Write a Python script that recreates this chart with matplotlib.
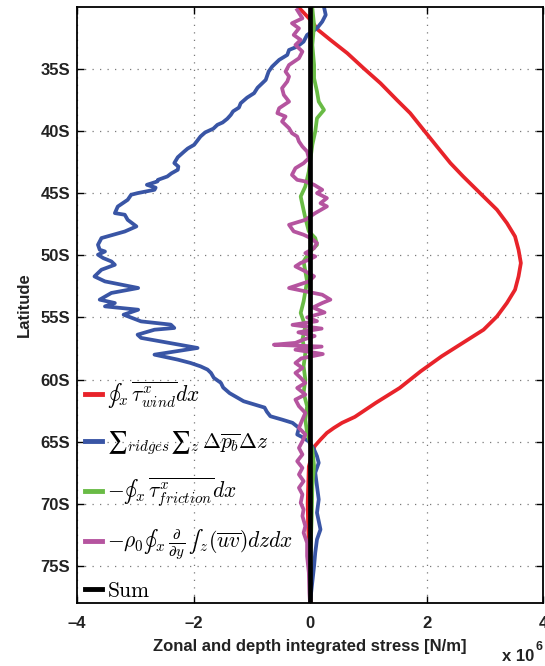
import matplotlib
matplotlib.use("Agg")
import matplotlib.pyplot as plt
from matplotlib.ticker import FixedLocator, FuncFormatter

plt.rcParams["mathtext.fontset"] = "cm"
plt.rcParams["font.family"] = ["Liberation Sans", "DejaVu Sans"]

# Zonal & depth integrated stress terms (units of 1e6 N/m) versus latitude (deg, negative = south)
wind_lat = [-30.0, -30.6, -31.05, -31.85, -32.65, -33.72, -34.93, -36.14, -37.48, -38.55,
            -39.90, -41.24, -42.57, -43.65, -44.99, -46.33, -47.40, -48.48, -49.55, -50.62,
            -51.70, -52.77, -53.84, -54.92, -55.99, -57.06, -58.13, -59.34, -60.68, -61.88,
            -63.01, -63.49, -63.90, -64.30, -64.84, -65.37, -66.0, -67.0, -68.5, -70.0,
            -72.0, -74.0, -76.0, -78.0]
wind_val = [-0.20, -0.08, 0.01, 0.14, 0.35, 0.64, 0.92, 1.21, 1.49, 1.72,
            1.95, 2.18, 2.41, 2.63, 2.92, 3.21, 3.38, 3.52, 3.58, 3.62,
            3.58, 3.52, 3.38, 3.21, 2.98, 2.62, 2.26, 1.90, 1.54, 1.13,
            0.77, 0.55, 0.41, 0.29, 0.18, 0.08, 0.04, -0.02, -0.03, -0.04,
            -0.03, -0.01, 0.00, 0.01]

ridge_lat = [-30.0, -30.64, -31.18, -31.71, -31.98, -32.25, -32.79, -33.19, -33.46, -33.86,
             -34.26, -34.80, -35.2, -35.6, -35.87, -36.14, -36.5, -36.94, -37.3, -37.75,
             -38.1, -38.4, -38.69, -39.0, -39.3, -39.49, -39.8, -40.1, -40.43, -40.8,
             -41.1, -41.4, -41.64, -42.1, -42.57, -42.85, -43.11, -43.4, -43.65, -43.92,
             -44.05, -44.32, -44.55, -44.72, -44.99, -45.12, -45.53, -46.07, -46.60, -46.73,
             -47.14, -47.67, -48.08, -48.61, -49.15, -49.55, -49.69, -49.95, -50.22, -50.49,
             -50.76, -51.16, -51.70, -52.10, -52.63, -53.03, -53.57, -53.84, -54.11, -54.38,
             -54.78, -55.32, -55.58, -55.85, -55.99, -56.39, -56.65, -57.46, -58.0, -58.40,
             -58.67, -58.94, -59.20, -59.47, -59.87, -60.27, -60.65, -61.1, -61.75, -62.26,
             -62.6, -62.96, -63.23, -63.49, -63.90, -64.43, -64.70, -65.0, -65.64, -66.18,
             -66.71, -67.51, -68.59, -69.66, -70.73, -72.08, -72.88, -73.95, -75.03, -76.3,
             -78.0]
ridge_val = [0.24, 0.27, 0.21, 0.12, 0.04, -0.05, -0.11, -0.22, -0.36, -0.39,
             -0.53, -0.65, -0.71, -0.74, -0.76, -0.82, -0.90, -0.96, -1.08, -1.19,
             -1.22, -1.32, -1.36, -1.42, -1.50, -1.59, -1.66, -1.80, -1.88, -1.94,
             -1.99, -2.10, -2.16, -2.27, -2.33, -2.26, -2.27, -2.38, -2.45, -2.61,
             -2.62, -2.80, -2.65, -2.67, -2.96, -3.07, -3.13, -3.30, -3.35, -3.18,
             -3.13, -2.98, -3.18, -3.58, -3.64, -3.61, -3.52, -3.64, -3.55, -3.41,
             -3.35, -3.58, -3.70, -3.52, -2.95, -3.41, -3.61, -3.35, -3.52, -2.95,
             -3.20, -2.90, -2.39, -2.33, -2.67, -2.96, -2.90, -1.93, -2.67, -2.27,
             -2.05, -1.88, -1.76, -1.70, -1.65, -1.53, -1.49, -1.38, -1.14, -0.78,
             -0.74, -0.68, -0.48, -0.30, -0.19, -0.22, -0.11, -0.02, 0.07, 0.12,
             0.15, 0.09, 0.12, 0.15, 0.12, 0.18, 0.12, 0.09, 0.07, 0.04,
             0.00]

friction_lat = [-30.1, -31.45, -33.06, -34.67, -35.74, -36.81, -37.62, -38.29, -38.96, -40.03,
                -41.10, -42.17, -43.25, -44.45, -45.26, -45.93, -47.0, -48.07, -48.61, -49.15,
                -49.82, -50.49, -51.29, -52.10, -52.90, -53.71, -54.64, -55.72, -56.79, -57.86,
                -58.93, -60.01, -61.08, -62.15, -63.23, -64.30, -65.64, -66.98, -68.59, -71.0,
                -73.69, -77.17, -78.0]
friction_val = [0.04, 0.07, 0.04, 0.07, 0.07, 0.12, 0.15, 0.24, 0.12, 0.09,
                0.04, 0.01, -0.02, -0.08, -0.16, -0.13, -0.08, -0.02, 0.09, 0.12,
                -0.02, -0.11, -0.08, -0.05, -0.08, -0.11, -0.16, -0.08, -0.13, -0.08,
                -0.11, -0.08, -0.11, -0.05, -0.08, -0.05, 0.04, 0.07, 0.04, 0.03,
                0.01, 0.00, 0.00]

eddy_lat = [-30.24, -30.91, -31.31, -31.72, -32.25, -32.65, -33.06, -33.59, -34.13, -34.67,
            -35.2, -35.6, -36.0, -36.54, -37.08, -37.62, -38.15, -38.55, -38.82, -39.22,
            -39.76, -40.16, -40.43, -40.83, -41.24, -41.64, -42.17, -42.58, -42.98, -43.52,
            -43.92, -44.05, -44.32, -44.72, -44.99, -45.39, -45.80, -46.06, -46.60, -47.14,
            -47.54, -48.07, -48.34, -48.61, -49.01, -49.42, -49.82, -50.09, -50.35, -50.62,
            -50.89, -51.29, -51.69, -52.10, -52.63, -52.90, -53.17, -53.57, -53.84, -54.2,
            -54.6, -55.0, -55.3, -55.6, -55.9, -56.2, -56.5, -56.8, -57.05, -57.2,
            -57.35, -57.6, -57.95, -58.3, -58.67, -59.07, -59.47, -59.87, -60.28, -60.68,
            -61.21, -61.62, -62.15, -62.69, -63.23, -63.90, -64.43, -64.97, -65.51, -66.04,
            -66.58, -67.12, -67.65, -68.19, -68.72, -69.26, -69.93, -70.47, -71.0, -71.81,
            -72.34, -73.15, -74.22, -75.56, -77.17, -78.0]
eddy_val = [-0.22, -0.13, -0.31, -0.19, -0.28, -0.16, -0.25, -0.13, -0.19, -0.36,
            -0.42, -0.36, -0.39, -0.48, -0.45, -0.36, -0.53, -0.56, -0.42, -0.48,
            -0.36, -0.31, -0.22, -0.19, -0.13, -0.05, -0.02, -0.11, -0.25, -0.31,
            -0.22, -0.08, 0.07, 0.21, 0.12, 0.29, 0.18, 0.29, 0.09, -0.08,
            -0.36, -0.28, -0.11, 0.01, 0.12, 0.07, -0.08, 0.09, -0.02, -0.16,
            -0.25, -0.08, 0.07, -0.02, -0.36, -0.08, 0.21, 0.35, 0.21, 0.05,
            0.25, -0.05, 0.12, -0.30, 0.20, -0.20, 0.08, -0.12, -0.25, -0.62,
            0.20, -0.25, 0.22, -0.15, -0.25, -0.13, -0.25, -0.16, -0.08, -0.22,
            -0.08, -0.25, -0.19, -0.08, -0.13, -0.19, -0.08, -0.13, -0.19, -0.13,
            -0.22, -0.13, -0.19, -0.11, -0.19, -0.13, -0.16, -0.11, -0.13, -0.08,
            -0.11, -0.05, -0.05, -0.02, -0.01, 0.00]

sum_lat = [-30.0, -78.0]
sum_val = [0.0, 0.0]

x_ticks = [-4, -2, 0, 2, 4]
lat_ticks = [-75, -70, -65, -60, -55, -50, -45, -40, -35]

labels = [
    "$\u222e_x\\,\\overline{\\tau^x_{wind}}dx$",
    "$\u2211_{ridges}\u2211_z\\,\\Delta\\overline{p_b}\\Delta z$",
    "$-\u222e_x\\,\\overline{\\tau^x_{friction}}dx$",
    "$-\\rho_0\u222e_x\\,\\frac{\\partial}{\\partial y}\\,\u222b_z(\\overline{uv})dzdx$",
    "$\\mathrm{Sum}$",
]
colors = ["#e8232a", "#3955a5", "#69bb45", "#b5549f", "#000000"]

fig = plt.figure(figsize=(5.45, 6.66), dpi=100)
ax = fig.add_axes([77 / 545, 1 - 603 / 666, (543 - 77) / 545, (603 - 7) / 666])

series = [(wind_val, wind_lat), (ridge_val, ridge_lat), (friction_val, friction_lat),
          (eddy_val, eddy_lat), (sum_val, sum_lat)]
for (xv, yv), lab, col in zip(series, labels, colors):
    lw = 3.4 if col == "#000000" else 2.7
    ax.plot(xv, yv, color=col, lw=lw, label=lab, solid_joinstyle="round")

ax.set_xlim(-4, 4)
ax.set_ylim(-78, -30)
ax.xaxis.set_major_locator(FixedLocator(x_ticks))
ax.yaxis.set_major_locator(FixedLocator(lat_ticks))
ax.yaxis.set_major_formatter(FuncFormatter(lambda v, p: f"{abs(int(round(v)))}S"))
ax.xaxis.set_major_formatter(FuncFormatter(lambda v, p: f"{int(v)}".replace("-", "\u2013")))

ax.grid(True, color="#7a7a7a", linestyle=(0, (1, 5)), linewidth=0.9)
ax.tick_params(direction="in", length=5, width=1, top=True, right=True,
               labelsize=12)
ax.tick_params(axis="x", pad=9)
ax.tick_params(axis="y", pad=5)
for t in ax.get_xticklabels() + ax.get_yticklabels():
    t.set_fontweight("bold")
    t.set_color("#222222")
for s in ax.spines.values():
    s.set_linewidth(1.3)

ax.set_xlabel("Zonal and depth integrated stress [N/m]", fontsize=12,
              fontweight="bold", color="#222222", labelpad=6)
ax.set_ylabel("Latitude", fontsize=12, fontweight="bold", color="#222222", labelpad=6)

fig.text(502 / 545, 1 - 661 / 666, "x 10", fontsize=12, fontweight="bold",
         color="#222222", ha="left", va="baseline")
fig.text(535 / 545, 1 - 650 / 666, "6", fontsize=9, fontweight="bold",
         color="#222222", ha="left", va="baseline")

leg = ax.legend(loc="lower left", frameon=False, fontsize=15.5, handlelength=0.8,
                handletextpad=0.2, labelspacing=0.86, borderaxespad=0.0,
                borderpad=0.05, bbox_to_anchor=(0.015, 0.0))
for h in leg.get_lines():
    h.set_linewidth(3.5)

fig.savefig("out.png", dpi=100)
